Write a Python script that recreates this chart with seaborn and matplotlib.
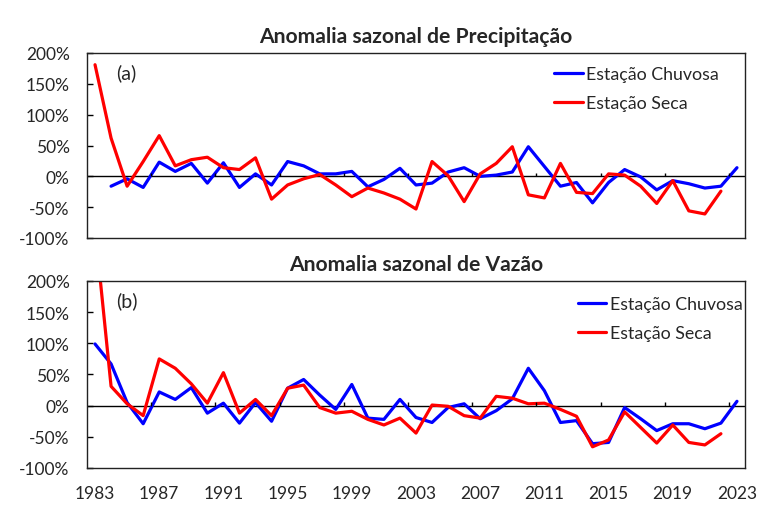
import numpy as np
import pandas as pd
import matplotlib
matplotlib.use("Agg")
import matplotlib.pyplot as plt
from matplotlib.ticker import FuncFormatter
import seaborn as sns

sns.set_theme(style="white")
plt.rcParams["font.family"] = ["Lato", "DejaVu Sans"]

# ── Dados (anomalias em %) ─────────────────────────────────
anos = list(range(1983, 2024))

precip_chuvosa = [np.nan, -16, -4, -18, 23, 8, 21, -11, 22, -18,
                  4, -14, 24, 17, 4, 4, 8, -17, -5, 13,
                  -14, -11, 7, 14, 0, 2, 7, 48, 16, -16,
                  -10, -43, -10, 11, -1, -22, -7, -12, -19, -16,
                  14]
precip_seca = [181, 62, -16, 24, 66, 17, 27, 31, 14, 11,
               30, -37, -14, -4, 3, -14, -33, -19, -27, -37,
               -53, 24, 1, -41, 4, 21, 48, -30, -35, 21,
               -26, -28, 4, 2, -16, -44, -7, -56, -61, -24,
               np.nan]

vazao_chuvosa = [99, 67, 5, -29, 22, 10, 29, -12, 4, -28,
                 5, -25, 28, 42, 17, -6, 34, -20, -22, 10,
                 -19, -27, -3, 3, -21, -8, 11, 60, 24, -27,
                 -24, -61, -59, -3, -21, -40, -29, -29, -37, -28,
                 7]
vazao_seca = [285, 31, 3, -16, 75, 60, 35, 4, 53, -12,
              10, -16, 28, 33, -3, -12, -9, -22, -31, -20,
              -44, 1, -1, -16, -20, 15, 12, 3, 4, -6,
              -17, -66, -55, -10, -35, -60, -31, -59, -63, -45,
              np.nan]

paineis = [
    ("Anomalia sazonal de Precipitação", "(a)", precip_chuvosa, precip_seca),
    ("Anomalia sazonal de Vazão", "(b)", vazao_chuvosa, vazao_seca),
]

AZUL = "#0000FF"
VERMELHO = "#FF0000"

fig = plt.figure(figsize=(7.68, 5.10), dpi=100)
W, H = 768, 510
caixas = [(87, 54, 745, 239), (87, 282, 745, 469)]
legenda_pos = [(0.71, 0.928), (0.746, 0.918)]

idx = np.arange(len(anos))
for k, ((titulo, letra, chuv, seca), (x0, y0, x1, y1)) in enumerate(zip(paineis, caixas)):
    ax = fig.add_axes([x0 / W, 1 - y1 / H, (x1 - x0) / W, (y1 - y0) / H])
    df = pd.DataFrame({"i": np.concatenate([idx, idx]),
                       "valor": chuv + seca,
                       "serie": ["Estação Chuvosa"] * len(anos) + ["Estação Seca"] * len(anos)})
    sns.lineplot(data=df, x="i", y="valor", hue="serie",
                 palette={"Estação Chuvosa": AZUL, "Estação Seca": VERMELHO},
                 linewidth=2.3, ax=ax)
    ax.axhline(0, color="black", linewidth=1.0, zorder=1)
    ax.vlines(np.arange(3.5, len(anos), 4), 0, 6, color="black", linewidth=1.0)

    ax.set_xlim(-0.5, len(anos) - 0.5)
    ax.set_ylim(-100, 200)
    ax.set_yticks(np.arange(-100, 201, 50))
    ax.yaxis.set_major_formatter(FuncFormatter(lambda v, p: f"{v:.0f}%"))
    ax.set_xticks(idx[::4])
    if k == 1:
        ax.set_xticklabels([str(a) for a in anos[::4]])
    else:
        ax.set_xticklabels([])
    ax.tick_params(axis="x", length=0, pad=12, labelsize=12.5)
    ax.tick_params(axis="y", length=4.3, width=1, direction="in", pad=12.5,
                   labelsize=12.5, left=True, color="black")
    ax.set_xlabel("")
    ax.set_ylabel("")
    for s in ax.spines.values():
        s.set_color("#222222")
        s.set_linewidth(1.0)

    ax.set_title(titulo, fontsize=15.2, fontweight="bold", pad=8)
    ax.text(0.045, 0.897, letra, transform=ax.transAxes, fontsize=14,
            ha="left", va="center")
    lx, ly = legenda_pos[k]
    leg = ax.legend(loc="upper left", bbox_to_anchor=(lx, ly), frameon=False,
                    fontsize=12.8, handlelength=1.6, handletextpad=0.2,
                    labelspacing=0.72, borderpad=0, borderaxespad=0)
    for ln in leg.get_lines():
        ln.set_linewidth(2.3)

fig.savefig("out.png", dpi=100)
